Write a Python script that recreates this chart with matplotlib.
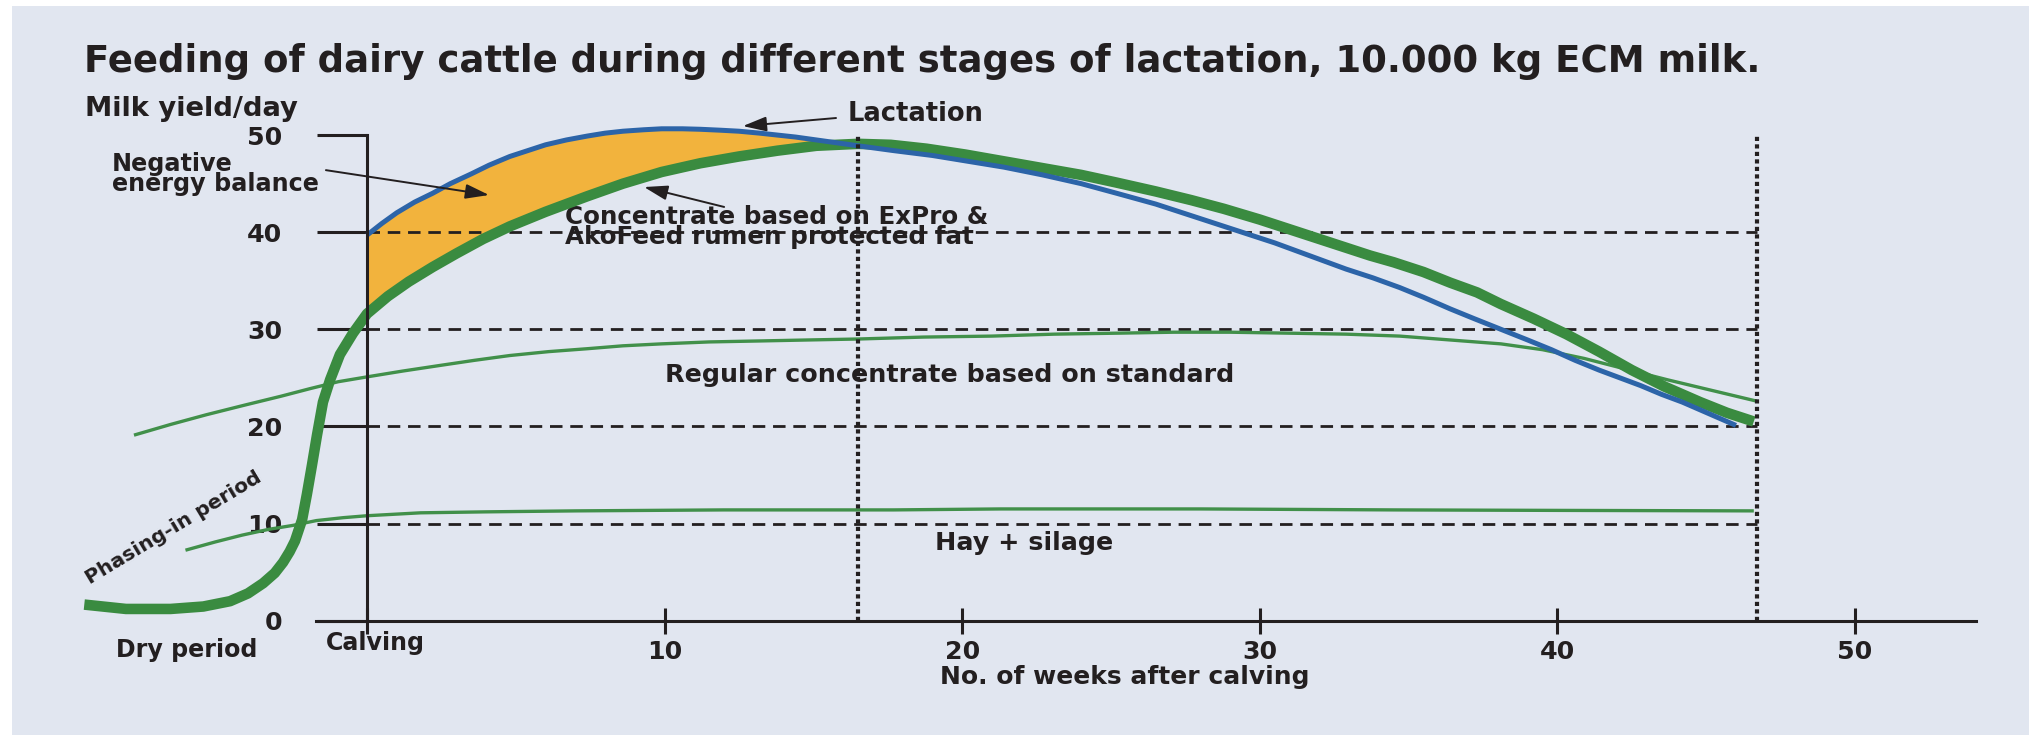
import matplotlib
matplotlib.use("Agg")
import matplotlib.pyplot as plt
import numpy as np

# ---------------- data ----------------
# Lactation curve (blue), milk yield per day vs weeks after calving
lact_weeks = [0, 0.5, 1.0, 1.6, 2.2, 2.8, 3.5, 4.1, 4.8, 5.4, 6.0, 6.7, 7.4, 8.0, 8.6, 9.3,
              9.9, 10.6, 11.2, 11.9, 12.5, 13.2, 13.8, 14.4, 15.1, 15.8, 16.5, 17.7, 19.0,
              20.2, 21.4, 22.7, 24.0, 25.2, 26.5, 27.3, 28.1, 28.9, 29.7, 30.5, 31.3, 32.1,
              32.9, 33.8, 34.7, 35.5, 36.4, 37.2, 38.1, 39.0, 39.8, 40.6, 41.4, 42.1, 42.8,
              43.5, 44.2, 45.1, 46.0]
lact_yield = [39.7, 40.9, 42.0, 43.1, 44.0, 45.0, 46.0, 46.9, 47.8, 48.4, 49.0, 49.5, 49.9,
              50.2, 50.4, 50.55, 50.65, 50.65, 50.6, 50.5, 50.4, 50.2, 50.0, 49.8, 49.5, 49.2,
              48.9, 48.4, 47.9, 47.3, 46.7, 45.9, 45.0, 44.0, 42.9, 42.1, 41.3, 40.5, 39.7,
              38.9, 38.0, 37.1, 36.2, 35.3, 34.3, 33.3, 32.1, 31.1, 30.0, 28.9, 27.9, 26.8,
              25.8, 25.0, 24.2, 23.3, 22.5, 21.3, 20.1]

# Concentrate based on ExPro & AkoFeed (thick green)
expro_weeks = [-9.5, -8.1, -6.6, -5.5, -4.6, -4.0, -3.49, -3.1, -2.82, -2.6, -2.42, -2.18,
               -2.02, -1.85, -1.68, -1.48, -1.24, -0.91, -0.47, 0, 0.7, 1.4, 2.2, 3.0, 3.9,
               4.8, 6.0, 7.4, 8.6, 9.9, 11.2, 12.5, 13.8, 15.1, 16.5, 17.6, 18.8, 20.1, 21.4,
               22.7, 24.0, 25.2, 26.5, 27.7, 28.8, 30.0, 31.0, 32.0, 32.8, 33.7, 34.5, 35.5,
               36.4, 37.3, 38.1, 39.2, 40.3, 41.4, 42.5, 43.6, 44.8, 45.7, 46.6]
expro_yield = [1.65, 1.2, 1.2, 1.45, 2.0, 2.8, 3.85, 4.9, 6.0, 7.1, 8.2, 10.4,
               13.0, 16.0, 19.1, 22.5, 24.8, 27.4, 29.6, 31.6, 33.4, 34.9, 36.4, 37.8, 39.3,
               40.6, 42.1, 43.7, 45.0, 46.2, 47.1, 47.8, 48.4, 48.9, 49.1, 49.0, 48.6, 48.0, 47.3,
               46.6, 45.9, 45.1, 44.2, 43.3, 42.4, 41.3, 40.3, 39.3, 38.5, 37.6, 36.9, 35.9,
               34.8, 33.8, 32.6, 31.1, 29.5, 27.7, 25.8, 24.1, 22.5, 21.4, 20.5]

# Regular concentrate based on standard (thin green)
regular_weeks = [-7.83, -6.6, -5.4, -4.1, -2.9, -1.9, -0.97, 0, 1.2, 2.5, 3.6, 4.8, 6.1, 7.4,
                 8.6, 9.9, 11.5, 13.2, 14.8, 16.5, 18.7, 21.0, 23.1, 25.2, 27.1, 29.0, 31.0,
                 32.9, 34.7, 36.4, 38.1, 39.5, 40.9, 42.3, 43.7, 45.2, 46.7]
regular_yield = [19.1, 20.2, 21.2, 22.2, 23.1, 23.9, 24.6, 25.1, 25.7, 26.3, 26.8, 27.3, 27.7,
                 28.0, 28.3, 28.5, 28.7, 28.8, 28.9, 29.0, 29.2, 29.3, 29.5, 29.6, 29.7, 29.7,
                 29.6, 29.5, 29.3, 28.9, 28.5, 27.9, 27.0, 25.9, 24.8, 23.7, 22.6]

# Hay + silage (thin green)
hay_weeks = [-6.1, -5.1, -4.2, -3.3, -2.5, -1.7, -0.8, 0, 1.8, 4.0, 7.0, 12.0, 17.7, 21.3,
             28.0, 34.5, 40.0, 46.6]
hay_yield = [7.25, 8.1, 8.8, 9.4, 9.8, 10.3, 10.6, 10.8, 11.1, 11.2, 11.3, 11.4, 11.4, 11.5,
             11.5, 11.4, 11.35, 11.3]

y_ticks = [0, 10, 20, 30, 40, 50]
x_ticks = [0, 10, 20, 30, 40, 50]
x_tick_labels = ["Calving", "10", "20", "30", "40", "50"]
grid_levels = [10, 20, 30, 40]
period_weeks = [16.5, 46.7]        # peak of lactation, end of lactation

title = "Feeding of dairy cattle during different stages of lactation, 10.000 kg ECM milk."
y_label = "Milk yield/day"
x_label = "No. of weeks after calving"
lbl_lactation = "Lactation"
lbl_neb = ["Negative", "energy balance"]
lbl_expro = ["Concentrate based on ExPro &", "AkoFeed rumen protected fat"]
lbl_regular = "Regular concentrate based on standard"
lbl_hay = "Hay + silage"
lbl_phasing = "Phasing-in period"
lbl_dry = "Dry period"

# ---------------- style ----------------
BG = "#E1E6F0"
INK = "#231F20"
BLUE = "#2C64A8"
GREEN = "#3A8B40"
THIN_GREEN = "#41904A"
ORANGE = "#F2B33D"
FONT = "DejaVu Sans"

W, H = 2029, 735
fig = plt.figure(figsize=(W / 100, H / 100), dpi=100, facecolor="white")
left_px, top_px = 12, 6
ax = fig.add_axes([left_px / W, 0, 1 - left_px / W, 1 - top_px / H])
ax.set_facecolor(BG)

# pixel mapping of the reference: x_px = 367 + 29.76*week ; y_px = 620.6 - 9.71*yield
ax.set_xlim((left_px - 367) / 29.76, (W - 367) / 29.76)
ax.set_ylim((620.6 - H) / 9.71, (620.6 - top_px) / 9.71)

for s in ("top", "right"):
    ax.spines[s].set_visible(False)
ax.spines["left"].set_position(("data", 0))
ax.spines["bottom"].set_position(("data", 0))
ax.spines["left"].set_bounds(0, 50)
ax.spines["bottom"].set_bounds(-1.71, 54.07)
for s in ("left", "bottom"):
    ax.spines[s].set_linewidth(2.2)
    ax.spines[s].set_color(INK)
    ax.spines[s].set_zorder(6)

renderer = fig.canvas.get_renderer()


def fit(txt, target_px, frac=0.92):
    w = txt.get_window_extent(renderer).width
    txt.set_fontsize(txt.get_fontsize() * target_px * frac / w)
    return txt


tkw = dict(fontfamily=FONT, fontweight="bold", color=INK, fontsize=10)

# number size
probe = ax.text(0, 0, "50", **tkw)
fit(probe, 44, 0.8)
num_size = probe.get_fontsize()
probe.remove()

ax.set_yticks(y_ticks)
ax.tick_params(axis="y", direction="out", length=36, width=2.2, pad=25,
               colors=INK, labelsize=num_size)
for t in ax.get_yticklabels():
    t.set_fontweight("bold")
    t.set_fontfamily(FONT)
ax.set_xticks(x_ticks)
ax.tick_params(axis="x", direction="inout", length=19, width=2.2, colors=INK,
               labelbottom=False)

# x tick labels
for wk, lab in zip(x_ticks, x_tick_labels):
    if wk == 0:
        t = ax.text(wk + 0.27, -2.31, lab, ha="center", va="center", **tkw)
        fit(t, 112, 0.88)
    else:
        t = ax.text(wk, -3.23, lab, ha="center", va="center", **tkw)
        t.set_fontsize(num_size)

fit(ax.text(-6.05, -3.03, lbl_dry, ha="center", va="center", **tkw), 161, 0.88)
fit(ax.text(25.47, -5.81, x_label, ha="center", va="center", **tkw), 411, 0.9)
fit(ax.text(-9.48, 52.69, y_label, ha="left", va="center", **tkw), 236, 0.9)
fit(fig.text(84 / W, 1 - 61 / H, title, ha="left", va="center", **tkw), 1863, 0.9)

# grid lines
ax.hlines(grid_levels, 0, period_weeks[-1], colors=INK, lw=2.0,
          linestyles=(0, (4.5, 2.8)), zorder=2)
ax.vlines(period_weeks, 0, 50, colors=INK, lw=3.0, linestyles=(0, (1.0, 0.8)), zorder=7)

# negative energy balance fill
bw, by = np.array(lact_weeks), np.array(lact_yield)
gw, gy = np.array(expro_weeks), np.array(expro_yield)
mb = bw <= period_weeks[0]
mg = (gw >= 0) & (gw <= period_weeks[0])
ax.fill(np.r_[bw[mb], gw[mg][::-1]], np.r_[by[mb], gy[mg][::-1]],
        color=ORANGE, lw=0, zorder=1)

# curves
ax.plot(hay_weeks, hay_yield, color=THIN_GREEN, lw=2.4, zorder=3,
        solid_joinstyle="round", solid_capstyle="butt")
ax.plot(regular_weeks, regular_yield, color=THIN_GREEN, lw=2.4, zorder=3,
        solid_joinstyle="round", solid_capstyle="butt")
ax.plot(expro_weeks, expro_yield, color=GREEN, lw=7.6, zorder=4,
        solid_joinstyle="round", solid_capstyle="butt")
ax.plot(lact_weeks, lact_yield, color=BLUE, lw=3.6, zorder=5,
        solid_joinstyle="round", solid_capstyle="butt")

# annotations
arw = dict(arrowstyle="-|>,head_length=0.8,head_width=0.25", color=INK, lw=1.4,
           mutation_scale=18, shrinkA=0, shrinkB=0)
fit(ax.text(16.16, 52.17, lbl_lactation, ha="left", va="center", **tkw), 148)
ax.annotate("", xy=(12.63, 50.93), xytext=(15.76, 51.76), arrowprops=arw, zorder=8)

t1 = ax.text(-8.57, 47.01, lbl_neb[0], ha="left", va="center", **tkw)
t2 = ax.text(-8.57, 44.95, lbl_neb[1], ha="left", va="center", **tkw)
fit(t2, 236, 0.88)
t1.set_fontsize(t2.get_fontsize())
ax.annotate("", xy=(4.10, 43.83), xytext=(-1.38, 46.39), arrowprops=arw, zorder=8)

c1 = ax.text(6.65, 41.57, lbl_expro[0], ha="left", va="center", zorder=3, **tkw)
c2 = ax.text(6.65, 39.50, lbl_expro[1], ha="left", va="center", zorder=3, **tkw)
fit(c1, 484, 0.88)
c2.set_fontsize(c1.get_fontsize())
ax.annotate("", xy=(9.31, 44.65), xytext=(12.0, 42.6), arrowprops=arw, zorder=8)

fit(ax.text(10.0, 25.29, lbl_regular, ha="left", va="center", **tkw), 621)
fit(ax.text(19.1, 7.99, lbl_hay, ha="left", va="center", **tkw), 194)

ph = ax.text(-6.49, 9.54, lbl_phasing, ha="center", va="center",
             rotation_mode="anchor", **tkw)
fit(ph, 201, 1.0)
ph.set_rotation(31)

fig.savefig("out.png", dpi=100, facecolor="white")
